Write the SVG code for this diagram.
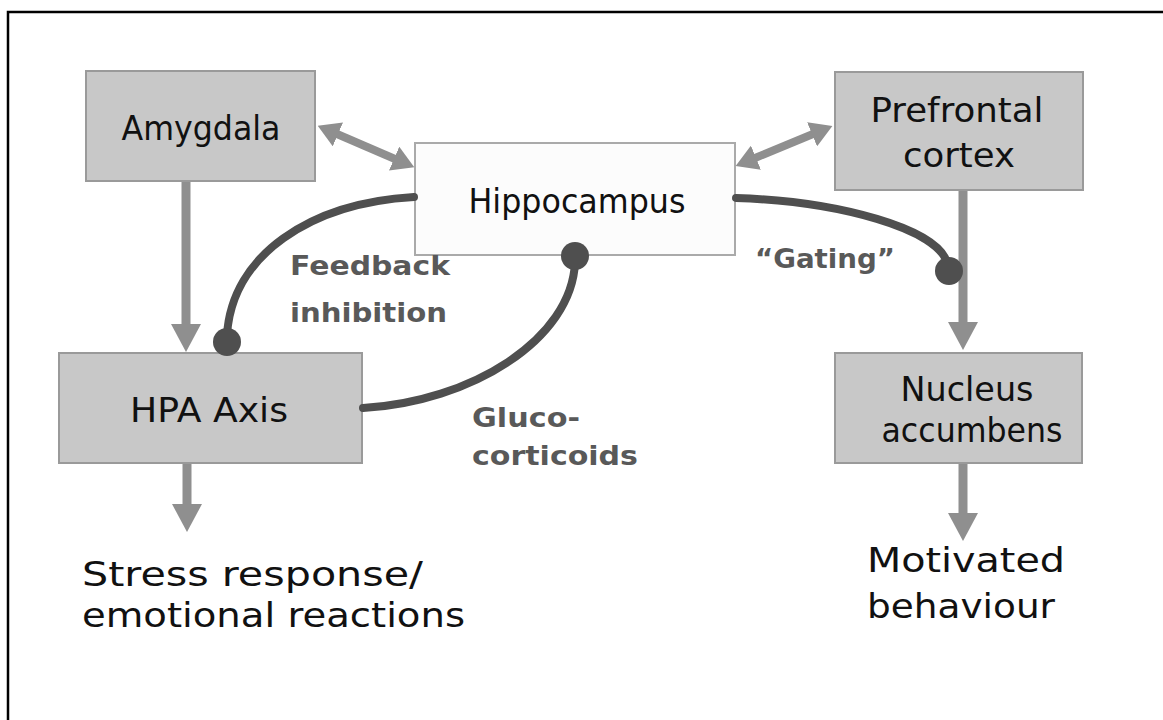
<svg xmlns="http://www.w3.org/2000/svg" width="1163" height="720" viewBox="0 0 1163 720">
<style>
.box{fill:#c8c8c8;stroke:#9a9a9a;stroke-width:2}
.hip{fill:#fcfcfc;stroke:#aaaaaa;stroke-width:2}
.nt{font-family:"Comic Sans MS","DejaVu Sans","Noto Sans",sans-serif;font-size:33px;fill:#111;text-anchor:middle}
.lb{font-family:"Comic Sans MS","DejaVu Sans","Noto Sans",sans-serif;font-size:26px;font-weight:bold;fill:#595959}
.out{font-family:"Comic Sans MS","DejaVu Sans","Noto Sans",sans-serif;font-size:34px;fill:#111}
.ga{stroke:#8f8f8f;stroke-width:9;fill:none}
.gd{stroke:#8f8f8f;stroke-width:8;fill:none}
.dk{stroke:#4f4f4f;stroke-width:8;fill:none;stroke-linecap:round}
.dot{fill:#4f4f4f}
</style>
<defs>
<marker id="ah" viewBox="0 -15 28 30" markerWidth="28" markerHeight="30" refX="1" refY="0" markerUnits="userSpaceOnUse" orient="auto-start-reverse">
<path d="M0,-15 L28,0 L0,15 z" fill="#8f8f8f"/>
</marker>
<marker id="ad" viewBox="0 -13 22 26" markerWidth="22" markerHeight="26" refX="1" refY="0" markerUnits="userSpaceOnUse" orient="auto-start-reverse">
<path d="M0,-13 L22,0 L0,13 z" fill="#8f8f8f"/>
</marker>
</defs>
<rect x="0" y="0" width="1163" height="720" fill="#ffffff"/>
<path d="M8,730 L8,12 L1175,12" fill="none" stroke="#000" stroke-width="2.5"/>

<g id="amygdala">
<rect class="box" x="86" y="71" width="229" height="110"/>
<text class="nt" x="201" y="140" textLength="159" lengthAdjust="spacingAndGlyphs">Amygdala</text>
</g>
<g id="hippocampus">
<rect class="hip" x="415" y="143" width="320" height="112"/>
<text class="nt" x="577" y="213" textLength="217" lengthAdjust="spacingAndGlyphs">Hippocampus</text>
</g>
<g id="prefrontal">
<rect class="box" x="835" y="72" width="248" height="118"/>
<text class="nt" x="957" y="122" textLength="173" lengthAdjust="spacingAndGlyphs">Prefrontal</text>
<text class="nt" x="959" y="167" textLength="112" lengthAdjust="spacingAndGlyphs">cortex</text>
</g>
<g id="hpa">
<rect class="box" x="59" y="353" width="303" height="110"/>
<text class="nt" x="209" y="422" textLength="158" lengthAdjust="spacingAndGlyphs">HPA Axis</text>
</g>
<g id="nucleus">
<rect class="box" x="835" y="353" width="247" height="110"/>
<text class="nt" x="967" y="401" textLength="133" lengthAdjust="spacingAndGlyphs">Nucleus</text>
<text class="nt" x="972" y="442" textLength="181" lengthAdjust="spacingAndGlyphs">accumbens</text>
</g>

<g id="connectors">
<line class="ga" x1="186" y1="182" x2="186" y2="325" marker-end="url(#ah)"/>
<line class="ga" x1="187" y1="464" x2="187" y2="505" marker-end="url(#ah)"/>
<line class="ga" x1="963" y1="191" x2="963" y2="323" marker-end="url(#ah)"/>
<line class="ga" x1="963" y1="464" x2="963" y2="514" marker-end="url(#ah)"/>
<line class="gd" x1="337" y1="134" x2="395" y2="159" marker-start="url(#ad)" marker-end="url(#ad)"/>
<line class="gd" x1="755" y1="158" x2="813" y2="134" marker-start="url(#ad)" marker-end="url(#ad)"/>
<path class="dk" d="M414,197 C310,203 232,255 227,335"/>
<circle class="dot" cx="227" cy="342" r="14"/>
<path class="dk" d="M363,408 C470,402 572,340 575,262"/>
<circle class="dot" cx="575" cy="256" r="14"/>
<path class="dk" d="M736,198 C835,201 942,228 948,266"/>
<circle class="dot" cx="949" cy="271" r="14"/>
</g>

<g id="labels">
<text class="lb" x="290" y="275" textLength="160" lengthAdjust="spacingAndGlyphs">Feedback</text>
<text class="lb" x="290" y="322" textLength="157" lengthAdjust="spacingAndGlyphs">inhibition</text>
<text class="lb" x="472" y="427" textLength="108" lengthAdjust="spacingAndGlyphs">Gluco-</text>
<text class="lb" x="472" y="465" textLength="166" lengthAdjust="spacingAndGlyphs">corticoids</text>
<text class="lb" x="755" y="268" textLength="140" lengthAdjust="spacingAndGlyphs">“Gating”</text>
</g>

<g id="outputs">
<text class="out" x="82" y="586" textLength="341" lengthAdjust="spacingAndGlyphs">Stress response/</text>
<text class="out" x="82" y="627" textLength="383" lengthAdjust="spacingAndGlyphs">emotional reactions</text>
<text class="out" x="867" y="572" textLength="198" lengthAdjust="spacingAndGlyphs">Motivated</text>
<text class="out" x="867" y="618" textLength="188" lengthAdjust="spacingAndGlyphs">behaviour</text>
</g>
</svg>
